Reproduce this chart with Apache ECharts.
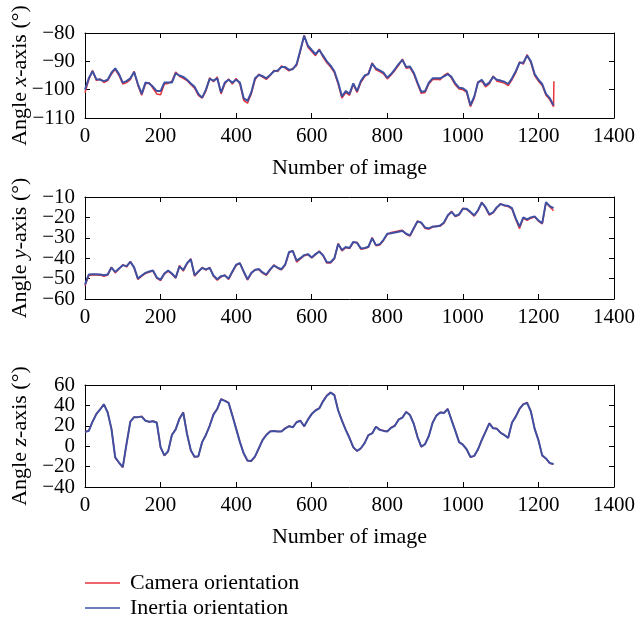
<!DOCTYPE html>
<html>
<head>
<meta charset="utf-8">
<script src="https://cdn.jsdelivr.net/npm/echarts@6/dist/echarts.min.js"></script>
<style>html,body{margin:0;padding:0;background:#fff}#c{width:635px;height:621px}</style>
</head>
<body>
<div id="c"></div>
<script>
// image numbers (sampling grid)
const images = [0,10,20,30,40,50,60,70,80,90,100,110,120,130,140,150,160,170,180,190,200,210,220,230,240,250,260,270,280,290,300,310,320,330,340,350,360,370,380,390,400,410,420,430,440,450,460,470,480,490,500,510,520,530,540,550,560,570,580,590,600,610,620,630,640,650,660,670,680,690,700,710,720,730,740,750,760,770,780,790,800,810,820,830,840,850,860,870,880,890,900,910,920,930,940,950,960,970,980,990,1000,1010,1020,1030,1040,1050,1060,1070,1080,1090,1100,1110,1120,1130,1140,1150,1160,1170,1180,1190,1200,1210,1220,1230,1240];

// X-axis angle
const inertiaX = [-100,-96,-93.5,-96.3,-96.5,-97,-96.5,-94,-92.5,-94.5,-97.5,-97,-96,-93.8,-98,-101.5,-97.5,-97.8,-99,-100.5,-100.5,-97.5,-97.5,-97.5,-94.2,-95,-95.5,-96.5,-97.8,-99,-101.5,-102.8,-100,-96.2,-96.8,-96,-101,-97.5,-96.5,-97.5,-96.5,-97.5,-103,-104,-101,-96,-94.8,-95.2,-96,-94.8,-93.5,-93.2,-92,-92,-93,-92.8,-91,-86,-81,-84.5,-86,-87.5,-86,-88,-90,-91.5,-93.5,-97.5,-102.4,-100.5,-101.5,-97.8,-100.5,-97,-95,-94.5,-90.8,-92.5,-93.2,-94,-95.8,-94.5,-92.8,-91,-89.5,-92,-91.8,-94,-97.5,-100.8,-100.5,-97.5,-96,-96,-96,-95.3,-94.5,-95.5,-97.8,-99.3,-99.5,-100.5,-105.5,-102.5,-97.5,-96.5,-98.5,-97.5,-95.5,-96.5,-96.8,-97.2,-98,-96,-93.5,-90.5,-90.5,-88,-90,-94.5,-96.5,-98,-101.5,-103,-105.5];
const cameraX = [-101,-96.5,-93.2,-96.8,-96.2,-97.5,-96.8,-94.5,-92.8,-95,-98,-97.5,-96.5,-93.5,-98.5,-102,-98,-97.5,-99.5,-101.5,-101.8,-98,-97.8,-97,-93.8,-95.3,-96,-96.8,-98.2,-99.5,-102,-103,-100.5,-95.8,-97.2,-95.5,-101.5,-98,-96.2,-98,-96,-98,-103.8,-104.8,-101.5,-96.5,-94.5,-95.6,-96.4,-95,-93.2,-93.6,-91.6,-92.4,-93.4,-92.5,-91.5,-86.5,-80.8,-85,-86.5,-88,-85.7,-88.5,-90.5,-92,-94,-98,-103,-101,-102,-98.2,-101,-97.5,-95.4,-94.2,-90.5,-93,-93.6,-94.4,-96.2,-94.8,-93.2,-91.4,-89.2,-92.4,-92.2,-94.5,-98,-101.3,-101,-98,-96.4,-96.3,-96.5,-95,-94.2,-96,-98.3,-99.8,-100,-101,-106,-103,-97.2,-97,-99,-98,-95.2,-97,-97.3,-97.7,-98.6,-96.5,-94,-90.2,-91,-87.6,-90.5,-95,-97,-98.5,-102,-103.5,-106];
const cameraXEndImage = 1241;
const cameraXEndValue = -97;

// Y-axis angle
const inertiaY = [-53,-48,-47.9,-47.9,-48,-48.4,-48,-44.6,-46.7,-45,-43.4,-43.9,-41.8,-44.5,-50,-48.5,-47.2,-46.5,-46,-49.5,-50.5,-47.5,-46,-47.5,-49.5,-44,-45.8,-42.5,-40.5,-48.4,-46.5,-44.8,-45.5,-44.8,-48.5,-50.3,-48.8,-48.5,-50,-46.5,-43.2,-42.5,-46.5,-50.3,-47.2,-45.8,-45.3,-47,-48,-45.5,-43.6,-44.6,-45.4,-43,-37,-36.5,-41.2,-40,-38.5,-38,-39.6,-38,-36.8,-38.5,-42,-42,-40,-33,-36,-34.5,-35,-32,-32.5,-35.2,-35,-34.4,-30.2,-33.6,-33.2,-31,-28,-27.8,-27.4,-27,-26.6,-28,-28.8,-25.3,-22,-22.5,-25,-25.4,-24.5,-24.5,-24,-22.5,-19,-17.3,-19.3,-18.5,-15.8,-15.8,-17.3,-19,-16.5,-12.8,-15,-18.5,-17.5,-15,-13.5,-14,-14.4,-15.5,-20.5,-24.5,-20,-21,-20,-19.5,-21.5,-22.8,-12.5,-14.5,-15.5];
const cameraY = [-53.5,-48.5,-48.2,-48.2,-48.3,-48.8,-48.3,-44.4,-47.2,-45.3,-43.2,-44.3,-41.6,-44.8,-50.4,-48.8,-47.5,-46.8,-46.3,-49.8,-51,-47.8,-46.3,-47.8,-49.8,-43.6,-46.3,-42.8,-40.2,-48.8,-46.8,-44.5,-45.8,-44.5,-48.8,-50.8,-49.2,-48.2,-50.4,-46.8,-43.5,-42.3,-46.8,-50.7,-47.5,-45.5,-45.6,-47.3,-48.4,-45.8,-43.3,-44.9,-45.7,-43.3,-37.3,-36.3,-41.9,-40.3,-38.8,-38.3,-39.9,-38.3,-36.5,-38.8,-42.4,-42.3,-40.3,-32.7,-36.4,-34.8,-35.3,-32.3,-32.2,-35.6,-35.3,-34.7,-29.9,-33.9,-33.5,-31.3,-28.3,-27.4,-27,-26.6,-26.3,-28.3,-29.2,-25.6,-21.7,-22.8,-25.4,-25.7,-24.8,-24.2,-24.3,-22.8,-19.3,-17,-19.6,-18.8,-15.5,-16.1,-17.6,-19.4,-16.8,-12.5,-15.3,-18.9,-17.8,-15.3,-13.2,-14.3,-14.7,-15.9,-21,-25.5,-20.3,-21.5,-20.4,-19.8,-21.8,-23.2,-12.8,-14.8,-16.7];

// Z-axis angle
const inertiaZ = [14,15,24,31.5,36,41,33,17,-11,-16,-20.5,2.6,24,28.5,28.5,29,25,24,24.5,23,-1,-9,-5,11,16.5,27,33,12,-4,-10.3,-9.8,4,11,20,31,36.5,46,44.5,42.5,30,17,4,-7,-14,-14.4,-10,-2,6,11,14.5,14.8,14.3,14.5,17.5,19.5,18.5,23.5,25,19.5,26,31.5,35,37,44,49.5,52.5,50,35,25,16,8,-1,-4.6,-2,3,10.8,12.5,19,16,15,14.5,18,20,26,28,33.5,30.5,22,9,-0.5,2,10,23,30,33,32.5,36.5,25.6,15,4,1.5,-3,-10.5,-9.5,-3,5.9,14,22.3,17.5,17,13,10.8,8.2,23,29,36.5,41,42.5,34,17,5.9,-9,-12,-16.5,-17.5];
const cameraZ = [14.3,15.2,24.2,31.8,36.2,41.3,33.2,17.3,-11.3,-16.3,-20.8,2.3,24.3,28.7,28.3,29.3,25.2,23.8,24.7,23.2,-1.3,-9.3,-5.3,11.2,16.7,27.3,33.3,12.3,-4.3,-10.6,-10,4.3,11.2,20.3,31.3,36.8,46.3,44.7,42.7,30.3,17.3,4.3,-7.3,-14.3,-14.7,-10.3,-2.3,6.3,11.3,14.7,15,14.5,14.7,17.8,19.8,18.7,23.8,25.3,19.2,26.3,31.8,35.3,37.3,44.3,49.8,52.8,50.3,35.3,25.3,16.3,8.3,-1.3,-4.9,-2.3,3.3,11,12.8,19.3,16.3,15.3,14.7,18.3,20.3,26.3,28.3,33.8,30.8,22.3,9.3,-0.8,2.3,10.3,23.3,30.3,33.3,32.8,36.8,25.9,15.3,4.3,1.3,-3.3,-10.8,-9.7,-3.3,6.2,14.3,22.6,17.8,17.3,13.3,11,8,23.3,29.3,36.8,41.3,42.8,34.3,17.3,6.2,-9.3,-12.3,-16.8,-17.8];

const tickX = [0, 1400, 200];           // min, max, interval
const tickYx = [-110, -80, 10];
const tickYy = [-60, -10, 10];
const tickYz = [-40, 60, 20];

const FONT = 'Liberation Serif';
const FS = 22;     // names, legend
const FT = 21;     // tick labels
const RED = '#e8333a';
const BLUE = '#3d50a2';

function pairs(xs, ys) { return ys.map((v, i) => [xs[i], v]); }
const minus = v => String(v).replace('-', '\u2212');

const grids = [
  {left: 85, top: 33, width: 529, height: 85},
  {left: 85, top: 197, width: 529, height: 102},
  {left: 85, top: 385, width: 529, height: 102}
].map(g => Object.assign({containLabel: false, outerBoundsMode: 'none'}, g));

const axisLine = {show: true, onZero: false, lineStyle: {color: '#000', width: 1}};
const axisTick = {show: true, inside: true, length: 5, lineStyle: {color: '#000', width: 1}};
const labelStyle = {color: '#000', fontFamily: FONT, fontSize: FT, showMinLabel: true, showMaxLabel: true, hideOverlap: false};

const xAxes = [], yAxes = [];
const yTicks = [tickYx, tickYy, tickYz];
const yNames = [
  '{n|Angle }{i|x}{n|-axis (°)}',
  '{n|Angle }{i|y}{n|-axis (°)}',
  '{n|Angle }{i|z}{n|-axis (°)}'
];
const richName = {n: {fontFamily: FONT, fontSize: FS, color: '#000'}, i: {fontFamily: FONT, fontSize: FS, fontStyle: 'italic', color: '#000'}};
const yAxisIdx = [];
for (let g = 0; g < 3; g++) {
  xAxes.push({
    type: 'value', gridIndex: g, position: 'bottom', min: tickX[0], max: tickX[1], interval: tickX[2],
    axisLine, axisTick, splitLine: {show: false},
    axisLabel: Object.assign({margin: 8, formatter: v => String(v)}, labelStyle),
    name: g === 1 ? '' : 'Number of image', nameLocation: 'middle', nameGap: 39,
    nameTextStyle: {color: '#000', fontFamily: FONT, fontSize: FS}
  });
  xAxes.push({
    type: 'value', gridIndex: g, position: 'top', min: tickX[0], max: tickX[1], interval: tickX[2],
    axisLine, axisTick, splitLine: {show: false}, axisLabel: {show: false}
  });
  const t = yTicks[g];
  // even-step labels (min, min+2i, ...)
  yAxisIdx.push(yAxes.length);
  yAxes.push({
    type: 'value', gridIndex: g, position: 'left', min: t[0], max: t[1], interval: t[2],
    axisLine, axisTick, splitLine: {show: false},
    axisLabel: Object.assign({margin: 10,
      formatter: v => (Math.round((v - t[0]) / t[2]) % 2 === 0 ? minus(v) : '')}, labelStyle),
    name: yNames[g], nameLocation: 'middle', nameGap: 54, nameRotate: 90, nameMoveOverlap: false,
    nameTextStyle: {rich: richName}
  });
  // odd-step labels
  yAxes.push({
    type: 'value', gridIndex: g, position: 'left', min: t[0], max: t[1], interval: t[2],
    axisLine: {show: false}, axisTick: {show: false}, splitLine: {show: false},
    axisLabel: Object.assign({margin: 10,
      formatter: v => (Math.round((v - t[0]) / t[2]) % 2 === 1 ? minus(v) : '')}, labelStyle)
  });
  yAxes.push({
    type: 'value', gridIndex: g, position: 'right', min: t[0], max: t[1], interval: t[2],
    axisLine, axisTick, splitLine: {show: false}, axisLabel: {show: false}
  });
}

function line(name, g, data, color, width) {
  return {
    name, type: 'line', xAxisIndex: g * 2, yAxisIndex: yAxisIdx[g], data,
    symbol: 'none', showSymbol: false, animation: false,
    lineStyle: {color, width}, itemStyle: {color}
  };
}

const camX1 = pairs(images, cameraX).concat([[cameraXEndImage, cameraXEndValue]]);

const option = {
  animation: false,
  backgroundColor: '#fff',
  grid: grids,
  xAxis: xAxes,
  yAxis: yAxes,
  legend: {
    orient: 'vertical', left: 85, top: 572, height: 60, padding: 0,
    itemWidth: 35, itemHeight: 1.5, itemGap: 3, icon: 'rect',
    data: ['Camera orientation', 'Inertia orientation'],
    textStyle: {color: '#000', fontFamily: FONT, fontSize: FS, padding: [0, 0, 0, 5]},
    selectedMode: false
  },
  series: [
    line('Camera orientation', 0, camX1, RED, 1.5),
    line('Inertia orientation', 0, pairs(images, inertiaX), BLUE, 2),
    line('Camera orientation', 1, pairs(images, cameraY), RED, 1.5),
    line('Inertia orientation', 1, pairs(images, inertiaY), BLUE, 2),
    line('Camera orientation', 2, pairs(images, cameraZ), RED, 1.5),
    line('Inertia orientation', 2, pairs(images, inertiaZ), BLUE, 2)
  ]
};

const chart = echarts.init(document.getElementById('c'), null, {renderer: 'canvas'});
chart.setOption(option);
</script>
</body>
</html>
